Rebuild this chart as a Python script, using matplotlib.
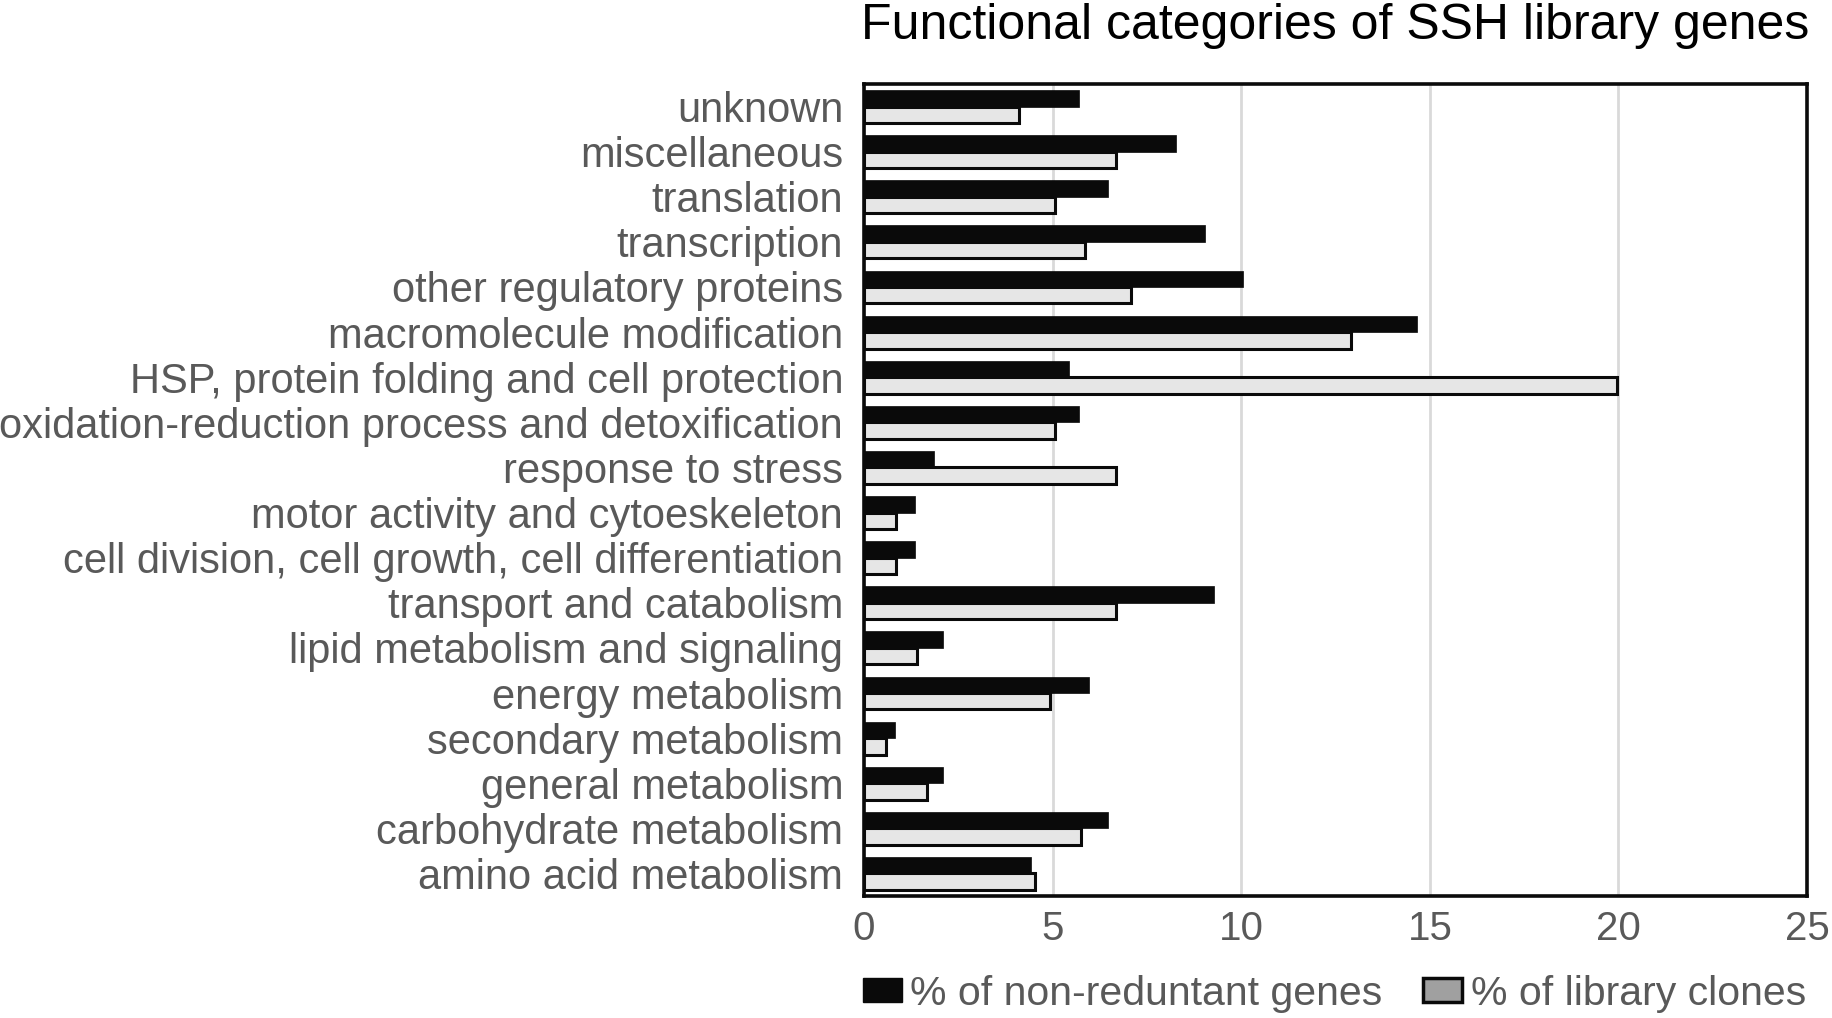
import numpy as np
from matplotlib import pyplot as plt
from matplotlib.patches import Patch

plt.rcParams['font.family'] = ['Liberation Sans', 'DejaVu Sans']

categories = ["unknown", "miscellaneous", "translation", "transcription",
              "other regulatory proteins", "macromolecule modification",
              "HSP, protein folding and cell protection",
              "oxidation-reduction process and detoxification",
              "response to stress", "motor activity and cytoeskeleton",
              "cell division, cell growth, cell differentiation",
              "transport and catabolism", "lipid metabolism and signaling",
              "energy metabolism", "secondary metabolism",
              "general metabolism", "carbohydrate metabolism",
              "amino acid metabolism"]

genes = [5.69, 8.26, 6.46, 9.03, 10.05, 14.65, 5.44, 5.69, 1.85,
         1.34, 1.34, 9.28, 2.10, 5.96, 0.83, 2.10, 6.46, 4.42]
clones = [4.10, 6.68, 5.06, 5.87, 7.08, 12.92, 19.96, 5.06, 6.68,
          0.85, 0.85, 6.68, 1.40, 4.92, 0.58, 1.67, 5.74, 4.52]

xticks = [0, 5, 10, 15, 20, 25]
series_names = ["% of non-reduntant genes", "% of library clones"]

label_gray = '#595959'

fig = plt.figure(figsize=(18.33, 10.18), dpi=100)
ax = fig.add_axes([0.4714, 0.1198, 0.5144, 0.7977])

n = len(categories)
y = np.arange(n)[::-1]
h = 0.365

ax.barh(y + h / 2, genes, height=h, color='#0a0a0a', edgecolor='#0a0a0a',
        linewidth=0.5, zorder=3)
ax.barh(y - h / 2, clones, height=h, color='#e6e6e6', edgecolor='#0a0a0a',
        linewidth=2.2, zorder=3)

ax.set_xlim(0, 25)
ax.set_ylim(-0.5, n - 0.5)
ax.set_xticks(xticks)
ax.set_xticklabels([str(t) for t in xticks])
ax.set_yticks(y)
ax.set_yticklabels(categories)
ax.tick_params(axis='y', length=0, labelsize=30, labelcolor=label_gray, pad=15)
ax.tick_params(axis='x', length=0, labelsize=29, labelcolor=label_gray, pad=10)
ax.grid(axis='x', color='#d9d9d9', linewidth=2, zorder=0)
ax.set_axisbelow(True)
for s in ax.spines.values():
    s.set_linewidth(2.6)
    s.set_color('#0a0a0a')
    s.set_zorder(5)

fig.text(0.7286, 0.9617, "Functional categories of SSH library genes",
         ha='center', va='baseline', fontsize=36, color='black')

handles = [Patch(facecolor='#0a0a0a', edgecolor='#0a0a0a', linewidth=1),
           Patch(facecolor='#a0a0a0', edgecolor='#0a0a0a', linewidth=2.5)]
leg = fig.legend(handles, series_names, loc='center', ncol=2,
                 bbox_to_anchor=(0.728, 0.024), frameon=False, fontsize=29.5,
                 handlelength=0.95, handleheight=0.55, handletextpad=0.2,
                 columnspacing=1.0, borderpad=0)
for t in leg.get_texts():
    t.set_color(label_gray)

fig.savefig('out.png', dpi=100)
